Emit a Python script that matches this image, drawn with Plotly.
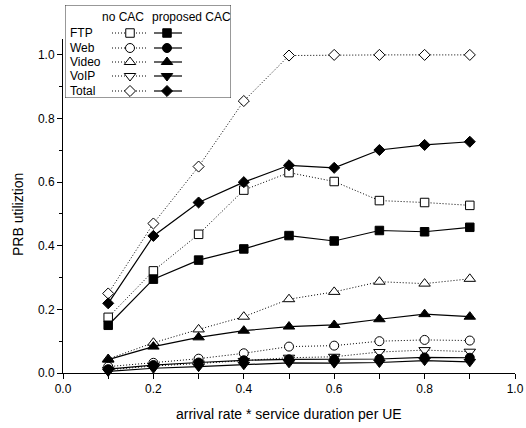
import plotly.graph_objects as go

# ---- data ----
x_vals = [0.1, 0.2, 0.3, 0.4, 0.5, 0.6, 0.7, 0.8, 0.9]

ftp_no = [0.175, 0.321, 0.436, 0.575, 0.630, 0.602, 0.542, 0.536, 0.527]
ftp_cac = [0.150, 0.295, 0.355, 0.390, 0.432, 0.415, 0.448, 0.444, 0.458]
web_no = [0.020, 0.032, 0.045, 0.062, 0.083, 0.086, 0.100, 0.104, 0.102]
web_cac = [0.012, 0.025, 0.033, 0.040, 0.043, 0.043, 0.044, 0.049, 0.048]
video_no = [0.044, 0.095, 0.137, 0.177, 0.232, 0.255, 0.287, 0.281, 0.296]
video_cac = [0.042, 0.083, 0.112, 0.133, 0.146, 0.151, 0.169, 0.185, 0.177]
voip_no = [0.010, 0.022, 0.030, 0.038, 0.048, 0.051, 0.066, 0.072, 0.067]
voip_cac = [0.005, 0.015, 0.020, 0.026, 0.032, 0.031, 0.033, 0.039, 0.035]
total_no = [0.250, 0.470, 0.649, 0.855, 0.998, 1.000, 1.000, 1.000, 1.000]
total_cac = [0.219, 0.431, 0.536, 0.600, 0.653, 0.645, 0.701, 0.717, 0.727]

series_names = ["FTP", "Web", "Video", "VoIP", "Total"]
no_cac = [ftp_no, web_no, video_no, voip_no, total_no]
with_cac = [ftp_cac, web_cac, video_cac, voip_cac, total_cac]
symbols = ["square", "circle", "triangle-up", "triangle-down", "diamond"]
sizes = [8.5, 9, 10, 10, 8.5]

x_ticks = [0.0, 0.2, 0.4, 0.6, 0.8, 1.0]
y_ticks = [0.0, 0.2, 0.4, 0.6, 0.8, 1.0]
col_headers = ["no CAC", "proposed CAC"]

FONT = "Liberation Sans, Arial, sans-serif"
DOT = "1px,2px"

fig = go.Figure()

# data traces
for name, ys, sym, sz in zip(series_names, no_cac, symbols, sizes):
    fig.add_trace(go.Scatter(
        x=x_vals, y=ys, mode="lines+markers", name=name + " no CAC",
        line=dict(color="black", width=1, dash=DOT),
        marker=dict(symbol=sym, size=sz, color="white",
                    line=dict(color="black", width=1)),
        showlegend=False, cliponaxis=False))
for name, ys, sym, sz in zip(series_names, with_cac, symbols, sizes):
    fig.add_trace(go.Scatter(
        x=x_vals, y=ys, mode="lines+markers", name=name + " proposed CAC",
        line=dict(color="black", width=1.2),
        marker=dict(symbol=sym, size=sz, color="black",
                    line=dict(color="black", width=1)),
        showlegend=False, cliponaxis=False))

# ---- custom legend drawn in its own (hidden) axes, pixel-like units ----
W, H = 526, 428
ml, mr, mt, mb = 63, 11, 5, 55
pw, ph = W - ml - mr, H - mt - mb
leg_x0, leg_x1, leg_y0, leg_y1 = 65, 231, 5, 98
row_y = [33, 48, 62, 76, 91]
for i, (name, sym, sz) in enumerate(zip(series_names, symbols, sizes)):
    ry = row_y[i]
    fig.add_trace(go.Scatter(x=[112, 147], y=[ry, ry], mode="lines",
                             line=dict(color="black", width=1, dash=DOT),
                             xaxis="x2", yaxis="y2", showlegend=False, hoverinfo="skip"))
    fig.add_trace(go.Scatter(x=[130], y=[ry], mode="markers",
                             marker=dict(symbol=sym, size=sz, color="white",
                                         line=dict(color="black", width=1)),
                             xaxis="x2", yaxis="y2", showlegend=False, hoverinfo="skip"))
    fig.add_trace(go.Scatter(x=[154, 182], y=[ry, ry], mode="lines",
                             line=dict(color="black", width=1.2),
                             xaxis="x2", yaxis="y2", showlegend=False, hoverinfo="skip"))
    fig.add_trace(go.Scatter(x=[167], y=[ry], mode="markers",
                             marker=dict(symbol=sym, size=sz, color="black",
                                         line=dict(color="black", width=1)),
                             xaxis="x2", yaxis="y2", showlegend=False, hoverinfo="skip"))
    fig.add_annotation(x=68, y=ry, xref="x2", yref="y2", text=name, showarrow=False,
                       xanchor="left", yanchor="middle",
                       font=dict(family=FONT, size=12, color="black"))
fig.add_annotation(x=123, y=17, xref="x2", yref="y2", text=col_headers[0], showarrow=False,
                   xanchor="center", yanchor="middle", font=dict(family=FONT, size=12, color="black"))
fig.add_annotation(x=191, y=17, xref="x2", yref="y2", text=col_headers[1], showarrow=False,
                   xanchor="center", yanchor="middle", font=dict(family=FONT, size=12, color="black"))
fig.add_shape(type="rect", xref="x2", yref="y2", x0=leg_x0, x1=leg_x1, y0=leg_y0, y1=leg_y1,
              line=dict(color="#333", width=1), fillcolor="white", layer="below")

# axis titles
fig.add_annotation(x=(289 - ml) / pw, y=(373 - 414) / ph, xref="paper", yref="paper",
                   text="arrival rate * service duration per UE", showarrow=False,
                   xanchor="center", yanchor="middle",
                   font=dict(family=FONT, size=14, color="black"))
fig.add_annotation(x=(18 - ml) / pw, y=(373 - 215) / ph, xref="paper", yref="paper",
                   text="PRB utiliztion", showarrow=False, textangle=-90,
                   xanchor="center", yanchor="middle",
                   font=dict(family=FONT, size=14, color="black"))

y_top = (373 - 39) / ph
fig.update_layout(
    width=W, height=H,
    margin=dict(l=ml, r=mr, t=mt, b=mb),
    paper_bgcolor="white", plot_bgcolor="white",
    font=dict(family=FONT, size=12, color="black"),
    xaxis=dict(range=[0, 1.0], domain=[0, 1], tickvals=x_ticks,
               ticktext=[f"{v:.1f}" for v in x_ticks],
               ticks="outside", ticklen=5, tickwidth=1, tickcolor="black",
               minor=dict(dtick=0.1, tick0=0, ticks="outside", ticklen=5, tickcolor="black"),
               showline=True, linecolor="black", linewidth=1,
               showgrid=False, zeroline=False, anchor="y", automargin=False,
               tickfont=dict(family=FONT, size=12, color="black")),
    yaxis=dict(range=[0, 1.05], domain=[0, y_top], tickvals=y_ticks,
               ticktext=[f"{v:.1f}" for v in y_ticks],
               ticks="outside", ticklen=5, tickwidth=1, tickcolor="black",
               minor=dict(dtick=0.1, tick0=0, ticks="outside", ticklen=3, tickcolor="black"),
               showline=True, linecolor="black", linewidth=1,
               showgrid=False, zeroline=False, anchor="x", automargin=False,
               tickfont=dict(family=FONT, size=12, color="black")),
    xaxis2=dict(domain=[(leg_x0 - ml) / pw, (leg_x1 - ml) / pw], range=[leg_x0, leg_x1],
                visible=False, anchor="y2", fixedrange=True),
    yaxis2=dict(domain=[(373 - leg_y1) / ph, 1], range=[leg_y1, leg_y0],
                visible=False, anchor="x2", fixedrange=True),
)

fig.write_html("out.html", config={"displayModeBar": False},
               post_script="document.body.style.margin='0';document.body.style.overflow='hidden';")
